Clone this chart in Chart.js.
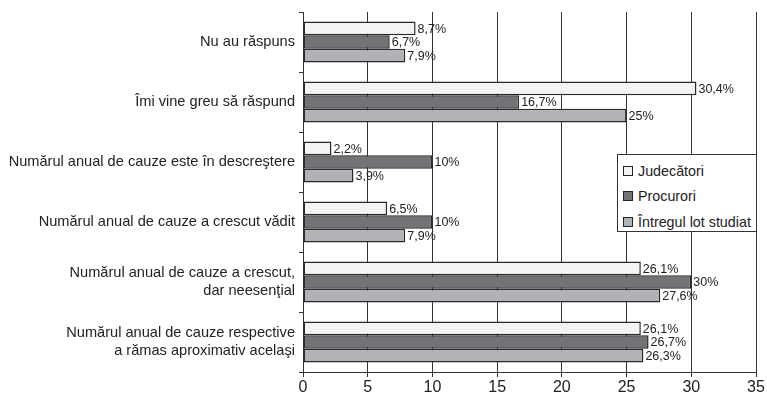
<!DOCTYPE html>
<html>
<head>
<meta charset="utf-8">
<script src="https://cdn.jsdelivr.net/npm/chart.js@4"></script>
<style>
  html, body { margin:0; padding:0; background:#fff; }
  #wrap { position:relative; width:767px; height:401px; }
  #legend {
    position:absolute; left:617px; top:154px; width:140px; height:78px;
    box-sizing:border-box; border:1px solid #333; background:#fff;
    font:14.3px "Liberation Sans", Arial, sans-serif; color:#222;
    padding:3px 0 0 5px;
  }
  .li { display:flex; align-items:center; height:25.5px; }
  .sw { width:8px; height:8px; border:1px solid #222; margin-right:5px; }
</style>
</head>
<body>
<div id="wrap">
  <canvas id="c" width="767" height="401"></canvas>
  <div id="legend"></div>
</div>
<script>
// ── Data ──────────────────────────────────────────────
const categories = [
  'Nu au răspuns',
  'Îmi vine greu să răspund',
  'Numărul anual de cauze este în descreştere',
  'Numărul anual de cauze a crescut vădit',
  ['Numărul anual de cauze a crescut,', 'dar neesenţial'],
  ['Numărul anual de cauze respective', 'a rămas aproximativ acelaşi']
];
const seriesNames = ['Judecători', 'Procurori', 'Întregul lot studiat'];
const judecatori  = [8.7, 30.4, 2.2, 6.5, 26.1, 26.1];
const procurori   = [6.7, 16.7, 10, 10, 30, 26.7];
const intregulLot = [7.9, 25, 3.9, 7.9, 27.6, 26.3];
const xTicks      = [0, 5, 10, 15, 20, 25, 30, 35];

const colors = ['#f4f4f4', '#727376', '#b1b2b5'];
const FONT = '"Liberation Sans", Arial, sans-serif';

const fmtPct = v => String(v).replace('.', ',') + '%';

// value labels to the right of each bar
const valueLabels = {
  id: 'valueLabels',
  afterDatasetsDraw(chart) {
    const ctx = chart.ctx;
    ctx.save();
    ctx.font = '12.5px ' + FONT;
    ctx.fillStyle = '#222';
    ctx.textBaseline = 'middle';
    ctx.textAlign = 'left';
    chart.data.datasets.forEach((ds, i) => {
      chart.getDatasetMeta(i).data.forEach((el, j) => {
        ctx.fillText(fmtPct(ds.data[j]), el.x + 2, el.y + 1);
      });
    });
    ctx.restore();
  }
};

new Chart(document.getElementById('c'), {
  type: 'bar',
  data: {
    labels: categories,
    datasets: [judecatori, procurori, intregulLot].map((d, i) => ({
      label: seriesNames[i], data: d,
      backgroundColor: colors[i], borderColor: '#2a2a2a',
      borderWidth: 1.5, borderSkipped: false,
      barPercentage: 1, categoryPercentage: 0.68
    }))
  },
  options: {
    indexAxis: 'y',
    responsive: false, animation: false,
    layout: { padding: { top: 12, right: 11, left: 0, bottom: 0 } },
    plugins: { legend: { display: false }, tooltip: { enabled: false } },
    scales: {
      x: {
        min: 0, max: 35,
        afterBuildTicks: s => { s.ticks = xTicks.map(v => ({ value: v })); },
        afterFit: s => { s.height = 29; },
        grid: { color: '#333', lineWidth: 1, tickLength: 5, drawOnChartArea: true },
        border: { color: '#333', width: 1 },
        ticks: { color: '#222', font: { family: FONT, size: 16 }, padding: 1 }
      },
      y: {
        // the category labels sit inside their bands, so no extra scale padding
        afterFit: s => { s.width = 303; s.paddingTop = 0; s.paddingBottom = 0; },
        grid: { drawOnChartArea: false, offset: true, color: '#333', tickLength: 4 },
        border: { color: '#333', width: 1 },
        ticks: { color: '#222', font: { family: FONT, size: 14.6 }, padding: 4, crossAlign: 'near' }
      }
    }
  },
  plugins: [valueLabels]
});

// legend box drawn as html over the plot
document.getElementById('legend').innerHTML = seriesNames.map((n, i) =>
  `<div class="li"><div class="sw" style="background:${colors[i]}"></div><span>${n}</span></div>`
).join('');
</script>
</body>
</html>
